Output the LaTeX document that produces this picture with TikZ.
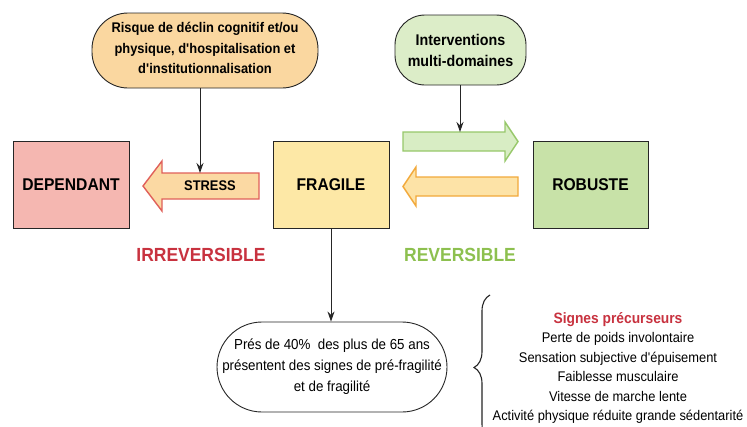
\documentclass[tikz,border=0pt]{standalone}
\usepackage{fontspec}
\setmainfont{Liberation Sans}[FakeStretch=0.92]
\usetikzlibrary{arrows.meta,decorations.pathreplacing}
\newcommand{\aq}{\textquotesingle}
\definecolor{cTopL}{HTML}{FAD7A0}
\definecolor{cInter}{HTML}{DCEDC8}
\definecolor{cDep}{HTML}{F5B7B1}
\definecolor{cFrag}{HTML}{FDE8A6}
\definecolor{cRob}{HTML}{C8E2A8}
\definecolor{cGreenF}{HTML}{D8EDC4}
\definecolor{cGreenB}{HTML}{97C86A}
\definecolor{cOrF}{HTML}{FDE3A7}
\definecolor{cOrB}{HTML}{F2A93B}
\definecolor{cStF}{HTML}{FBD9A3}
\definecolor{cStB}{HTML}{E0605A}
\definecolor{cRed}{HTML}{C8323F}
\definecolor{cGreenT}{HTML}{8DC04F}
\definecolor{cLine}{HTML}{262626}
\tikzset{
  boxnode/.style={draw=cLine, line width=0.9pt, inner sep=0pt, align=center,
    font=\bfseries\fontsize{17}{20}\selectfont},
  stadium/.style={draw=cLine, line width=0.9pt, inner sep=0pt, align=center},
  conn/.style={draw=cLine, line width=1pt, -{Stealth[length=10pt,width=7pt]}},
  bigarrow/.style={line width=1.4pt, line join=miter},
}
\begin{document}
\begin{tikzpicture}[x=1pt,y=-1pt]
\clip (0,0) rectangle (747,426);
\fill[white] (0,0) rectangle (747,426);

% top shapes
\node[stadium, fill=cTopL, minimum width=226pt, minimum height=75pt, rounded corners=36pt] (risk) at (205,50.5) {};
\node[align=center, font=\bfseries\fontsize{14}{20.5}\selectfont] (risktxt) at (205,48)
  {Risque de déclin cognitif et/ou\\physique, d\aq hospitalisation et\\d\aq institutionnalisation};
\node[stadium, fill=cInter, minimum width=131pt, minimum height=70pt, rounded corners=30pt,
  font=\bfseries\fontsize{15.5}{21}\selectfont] (inter) at (460.5,50) {Interventions\\multi-domaines};

% boxes
\node[boxnode, fill=cDep, minimum width=116pt, minimum height=87pt] (dep) at (71,185) {DEPENDANT};
\node[boxnode, fill=cFrag, minimum width=116pt, minimum height=87pt] (frag) at (331,185) {FRAGILE};
\node[boxnode, fill=cRob, minimum width=115pt, minimum height=87pt] (rob) at (590.5,185) {ROBUSTE};

% big arrows
\draw[bigarrow, draw=cGreenB, fill=cGreenF] (403,132) -- (505,132) -- (505,122) -- (518,141.5)
  -- (505,161) -- (505,151) -- (403,151) -- cycle;
\draw[bigarrow, draw=cOrB, fill=cOrF] (518,177) -- (416,177) -- (416,167) -- (403,186.5)
  -- (416,206) -- (416,196) -- (518,196) -- cycle;
\draw[bigarrow, draw=cStB, fill=cStF] (259,173) -- (162,173) -- (162,161) -- (143,186)
  -- (162,211) -- (162,199) -- (259,199) -- cycle;
\node[font=\bfseries\fontsize{14}{16}\selectfont] (stress) at (210,186) {STRESS};

% connectors
\coordinate (stressTop) at (200,173);
\coordinate (greenTop) at (460,132);
\draw[conn] (risk.south -| stressTop) -- (stressTop);
\draw[conn] (inter.south -| greenTop) -- (greenTop);

% labels
\node[font=\bfseries\fontsize{19}{22}\selectfont, text=cRed] (irr) at (201,255) {IRREVERSIBLE};
\node[font=\bfseries\fontsize{19}{22}\selectfont, text=cGreenT] (rev) at (460,255) {REVERSIBLE};

% bottom stadium
\node[stadium, fill=white, minimum width=230pt, minimum height=90pt, rounded corners=45pt,
  font=\fontsize{14.5}{21}\selectfont] (pct) at (332,367)
  {Prés de 40\%\ \ des plus de 65 ans\\présentent des signes de pré-fragilité\\et de fragilité};
\draw[conn] (frag.south) -- (pct.north -| frag.south);

% brace
\draw[draw=cLine, line width=1.1pt, decorate, decoration={brace, amplitude=16pt, mirror}]
  (490,295) -- (490,440);

% signs list
\node[align=center, font=\fontsize{14}{19.4}\selectfont] (signs) at (618,368)
  {{\bfseries\fontsize{15}{19.4}\selectfont\color{cRed}Signes précurseurs}\\
   Perte de poids involontaire\\
   Sensation subjective d\aq épuisement\\
   Faiblesse musculaire\\
   Vitesse de marche lente\\
   Activité physique réduite grande sédentarité};
\end{tikzpicture}
\end{document}
